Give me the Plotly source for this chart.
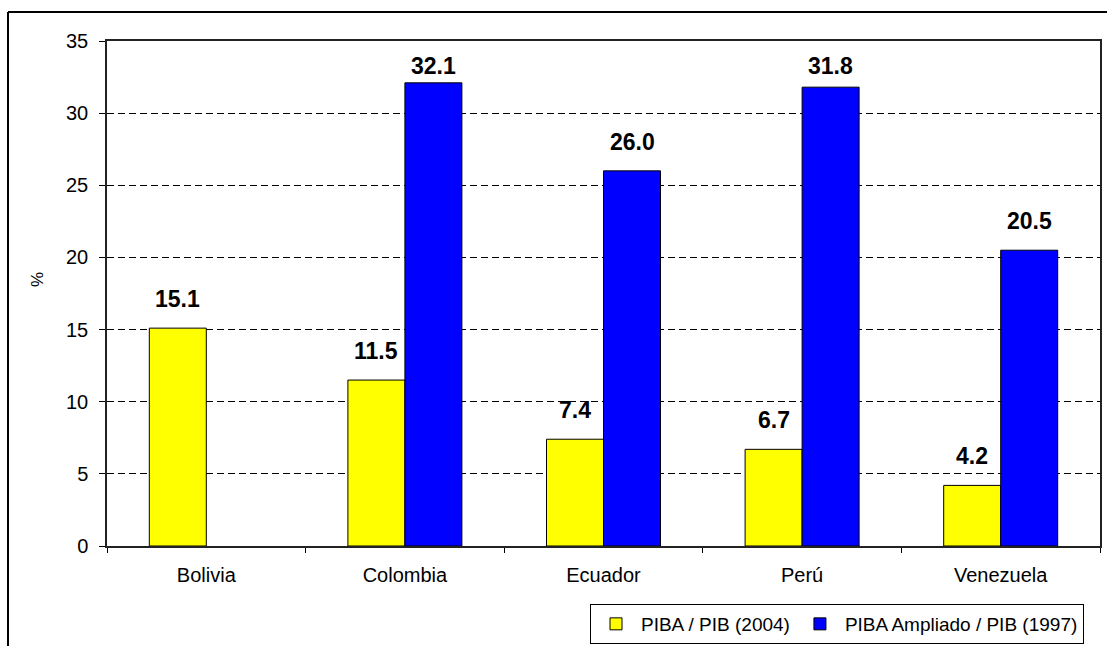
import plotly.graph_objects as go

categories = ["Bolivia", "Colombia", "Ecuador", "Perú", "Venezuela"]
piba_2004 = [15.1, 11.5, 7.4, 6.7, 4.2]
piba_ampliado_1997 = [None, 32.1, 26.0, 31.8, 20.5]
series_names = ["PIBA / PIB (2004)", "PIBA Ampliado / PIB (1997)"]
series_colors = ["#FFFF00", "#0000FF"]
y_ticks = [0, 5, 10, 15, 20, 25, 30, 35]
Y_MAX = 35
y_title = "%"

FONT = "Arial, Liberation Sans, sans-serif"
W, H = 1107, 646
ML, MT, MR, MB = 107, 41, 7, 100
PW = W - ML - MR
PH = H - MT - MB
PPU = PH / Y_MAX  # pixels per data unit

fig = go.Figure()
for name, vals, col in zip(series_names, [piba_2004, piba_ampliado_1997], series_colors):
    fig.add_trace(go.Bar(
        x=categories, y=vals, name=name,
        marker=dict(color=col, line=dict(color="black", width=1)),
    ))

bar_px = 57
for k, vals in enumerate([piba_2004, piba_ampliado_1997]):
    shift = (-0.5 if k == 0 else 0.5) * bar_px
    for c, v in zip(categories, vals):
        if v is None:
            continue
        # label centred ~29px above the bar, but kept inside the plot area
        lift = min(29, (Y_MAX - v) * PPU - 25)
        fig.add_annotation(
            x=c, y=v, xref="x", yref="y", text=f"<b>{v:.1f}</b>",
            showarrow=False, xshift=shift, yshift=lift, yanchor="middle",
            font=dict(family=FONT, size=23, color="black"),
        )

# y-axis title (placed like the original, slightly above centre)
fig.add_annotation(
    x=(37 - ML) / PW, y=(MT + PH - 280) / PH, xref="paper", yref="paper",
    xanchor="center", yanchor="middle",
    text=y_title, textangle=-90, showarrow=False,
    font=dict(family=FONT, size=17, color="black"),
)

# outer chart border (top and left visible)
x0 = (8 - ML) / PW
y0 = 1 + (MT - 12) / PH
fig.add_shape(type="line", xref="paper", yref="paper", x0=x0, x1=1 + (MR + 5) / PW, y0=y0, y1=y0,
              line=dict(color="black", width=2))
fig.add_shape(type="line", xref="paper", yref="paper", x0=x0, x1=x0, y0=y0, y1=-(MB + 5) / PH,
              line=dict(color="black", width=2))

fig.update_layout(
    width=W, height=H,
    margin=dict(l=ML, r=MR, t=MT, b=MB, autoexpand=False),
    paper_bgcolor="white", plot_bgcolor="white",
    barmode="group", bargap=0.426, bargroupgap=0,
    font=dict(family=FONT, size=20, color="black"),
    showlegend=True,
    legend=dict(
        orientation="h", x=(1084 - ML) / PW, xanchor="right",
        y=-(604 - (MT + PH)) / PH, yanchor="top",
        bordercolor="black", borderwidth=1, bgcolor="white",
        font=dict(family=FONT, size=19, color="black"),
        itemwidth=40, tracegroupgap=0,
    ),
    xaxis=dict(
        type="category", tickson="boundaries", ticks="outside", ticklen=5,
        tickcolor="black", showline=True, linecolor="#222222", linewidth=1.5,
        mirror=True, tickfont=dict(size=20), showgrid=False,
        ticklabelstandoff=10, automargin=False,
    ),
    yaxis=dict(
        range=[0, Y_MAX], tickvals=y_ticks, ticks="outside", ticklen=6,
        tickcolor="black", showline=True, linecolor="#222222", linewidth=1.5,
        mirror=True, tickfont=dict(size=20), ticklabelstandoff=7,
        showgrid=True, gridcolor="black", gridwidth=1, griddash="7px,4px",
        zeroline=False, automargin=False,
    ),
)

fig.write_html(
    "out.html", config={"displayModeBar": False},
    post_script=(
        "document.body.style.margin='0px';"
        "document.body.style.overflow='hidden';"
        "document.documentElement.style.overflow='hidden';"
    ),
)
